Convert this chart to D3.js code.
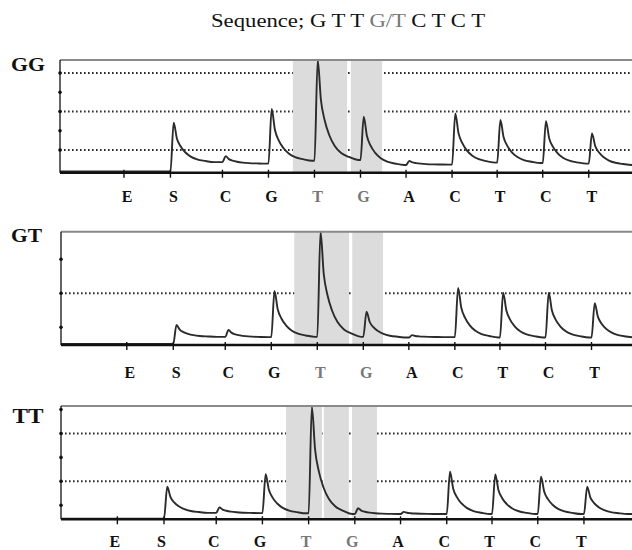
<!DOCTYPE html>
<html>
<head>
<meta charset="utf-8">
<script src="https://cdn.jsdelivr.net/npm/d3@7"></script>
<style>
  body { margin: 0; background: #fff; }
  svg { display: block; }
</style>
</head>
<body>
<div id="chart"></div>
<script>
// dispensation order and time of each dispensation (E = 1)
var dispensations = ["E", "S", "C", "G", "T", "G", "A", "C", "T", "C", "T"];
var dispTimes = [1, 2.01, 3.14, 4.14, 5.14, 6.14, 7.13, 8.13, 9.11, 10.1, 11.1];
var snpIndex = [4, 5]; // the T and G under the grey band

var genotypes = ["GG", "GT", "TT"];

// peak top for every dispensation (null = no peak) and level the trace settles to afterwards
var peaksGG = [null, 2.42, 0.69, 3.13, 5.67, 2.73, 0.44, 2.9, 2.56, 2.5, 1.87];
var baseGG  = [-0.11, 0.38, 0.3, 0.45, 0.49, 0.23, 0.25, 0.35, 0.33, 0.3, 0.23];
var peaksGT = [null, 1.07, 0.92, 2.07, 3.81, 1.46, 0.77, 2.16, 2.02, 2.02, 1.71];
var baseGT  = [0.51, 0.72, 0.71, 0.72, 0.72, 0.7, 0.71, 0.7, 0.7, 0.7, 0.7];
var peaksTT = [null, 1.77, 0.91, 2.3, 5.12, 0.87, 0.72, 2.4, 2.29, 2.19, 1.77];
var baseTT  = [0.44, 0.68, 0.67, 0.66, 0.63, 0.63, 0.63, 0.63, 0.63, 0.63, 0.63];

// y axis: tick dots, dotted grid lines and visible range (signal units)
var yTicksGG = [1, 2, 3, 4, 5], gridGG = [1, 3, 5], yDomainGG = [-0.17, 5.67];
var yTicksGT = [1, 2, 3],       gridGT = [2],       yDomainGT = [0.48, 3.81];
var yTicksTT = [1, 2, 3, 4, 5], gridTT = [2, 4],    yDomainTT = [0.41, 5.15];

// grey bands over the SNP dispensations (time units)
var shadeGG = [[4.67, 5.85], [5.93, 6.61]];
var shadeGT = [[4.64, 5.83], [5.9, 6.57]];
var shadeTT = [[4.65, 5.43], [5.47, 6.01], [6.08, 6.62]];

// shape of one peak: time after dispensation vs. fraction of height above the new level
var decayOffsets = [0.07, 0.14, 0.22, 0.32, 0.44, 0.58, 0.75, 0.95];
var decayFrac    = [1, 0.6, 0.4, 0.25, 0.14, 0.07, 0.03, 0];

var width = 632, height = 550;
var serif = "'Liberation Serif', 'Times New Roman', Times, serif";

var svg = d3.select("#chart")
    .append("svg")
        .attr("width", width)
        .attr("height", height);

// title
var title = svg.append("text")
    .attr("x", 211)
    .attr("y", 27)
    .attr("textLength", 274)
    .attr("lengthAdjust", "spacingAndGlyphs")
    .attr("font-family", serif)
    .attr("font-size", 18)
    .attr("fill", "#111");
title.append("tspan").text("Sequence; G T T ");
title.append("tspan").attr("fill", "#777").text("G/T");
title.append("tspan").text(" C T C T");

var panels = [
    {name: "GG", peaks: peaksGG, base: baseGG, yTicks: yTicksGG, grid: gridGG, yDomain: yDomainGG, shade: shadeGG,
     top: 60, axis: 172.7, left: 60, xDomain: [-0.39, 12.04], labelDx: 3, labelDy: 29.5,
     nameX: 11, nameY: 71, nameSize: 18, nameLen: 34},
    {name: "GT", peaks: peaksGT, base: baseGT, yTicks: yTicksGT, grid: gridGT, yDomain: yDomainGT, shade: shadeGT,
     top: 231.7, axis: 345, left: 61, xDomain: [-0.43, 11.98], labelDx: 3, labelDy: 32.5,
     nameX: 11, nameY: 242, nameSize: 18, nameLen: 31},
    {name: "TT", peaks: peaksTT, base: baseTT, yTicks: yTicksTT, grid: gridTT, yDomain: yDomainTT, shade: shadeTT,
     top: 406, axis: 519.3, left: 61, xDomain: [-0.22, 12.14], labelDx: -2.5, labelDy: 28,
     nameX: 12.5, nameY: 423, nameSize: 20, nameLen: 31}
];

panels.forEach(function(p) {
    var x = d3.scaleLinear().domain(p.xDomain).range([p.left, width]);
    var y = d3.scaleLinear().domain(p.yDomain).range([p.axis, p.top]);
    var g = svg.append("g");

    // dotted grid lines
    g.selectAll(".grid")
        .data(p.grid)
        .enter()
        .append("line")
        .attr("x1", p.left)
        .attr("x2", width)
        .attr("y1", function(d) { return y(d); })
        .attr("y2", function(d) { return y(d); })
        .style("stroke", "#2a2a2a")
        .style("stroke-width", 2)
        .style("stroke-dasharray", "1.6 2.4");

    // grey bands (they hide the grid underneath)
    g.selectAll(".shade")
        .data(p.shade)
        .enter()
        .append("rect")
        .attr("x", function(d) { return x(d[0]); })
        .attr("width", function(d) { return x(d[1]) - x(d[0]); })
        .attr("y", p.top)
        .attr("height", p.axis - p.top)
        .style("fill", "#dcdcdc");

    // build the trace from the peak table
    var pts = [[p.xDomain[0], p.base[0]]];
    var level = p.base[0];
    for (var i = 0; i < dispensations.length; i++) {
        if (p.peaks[i] == null) { continue; }
        var t = dispTimes[i];
        pts.push([t, level]);
        for (var k = 0; k < decayOffsets.length; k++) {
            pts.push([t + decayOffsets[k], p.base[i] + decayFrac[k] * (p.peaks[i] - p.base[i])]);
        }
        level = p.base[i];
    }
    pts.push([p.xDomain[1], level]);

    g.append("path")
        .datum(pts)
        .attr("d", d3.line()
            .x(function(d) { return x(d[0]); })
            .y(function(d) { return y(d[1]); })
            .curve(d3.curveMonotoneX))
        .style("fill", "none")
        .style("stroke", "#2b2b2b")
        .style("stroke-width", 1.9);

    // top frame
    g.append("line")
        .attr("x1", p.left).attr("x2", width)
        .attr("y1", p.top).attr("y2", p.top)
        .style("stroke", "#8a8a8a")
        .style("stroke-width", 2);

    // left axis with dot ticks
    g.append("line")
        .attr("x1", p.left).attr("x2", p.left)
        .attr("y1", p.top).attr("y2", p.axis)
        .style("stroke", "#111")
        .style("stroke-width", 1.3);
    g.selectAll(".ytick")
        .data(p.yTicks)
        .enter()
        .append("circle")
        .attr("cx", p.left)
        .attr("cy", function(d) { return y(d); })
        .attr("r", 1.8)
        .style("fill", "#111");

    // bottom axis with ticks at each dispensation
    g.append("line")
        .attr("x1", p.left).attr("x2", width)
        .attr("y1", p.axis).attr("y2", p.axis)
        .style("stroke", "#111")
        .style("stroke-width", 2.6);
    g.selectAll(".xtick")
        .data(dispTimes)
        .enter()
        .append("line")
        .attr("x1", function(d) { return x(d); })
        .attr("x2", function(d) { return x(d); })
        .attr("y1", p.axis - 3)
        .attr("y2", p.axis + 5)
        .style("stroke", "#111")
        .style("stroke-width", 1.4);

    g.selectAll(".disp")
        .data(dispensations)
        .enter()
        .append("text")
        .attr("x", function(d, i) { return x(dispTimes[i]) + p.labelDx; })
        .attr("y", p.axis + p.labelDy)
        .attr("text-anchor", "middle")
        .attr("font-family", serif)
        .attr("font-weight", "bold")
        .attr("font-size", 16)
        .attr("fill", function(d, i) { return snpIndex.indexOf(i) >= 0 ? "#777" : "#111"; })
        .text(function(d) { return d; });

    // genotype name
    g.append("text")
        .attr("x", p.nameX)
        .attr("y", p.nameY)
        .attr("textLength", p.nameLen)
        .attr("lengthAdjust", "spacingAndGlyphs")
        .attr("font-family", serif)
        .attr("font-weight", "bold")
        .attr("font-size", p.nameSize)
        .attr("fill", "#111")
        .text(p.name);
});
</script>
</body>
</html>
